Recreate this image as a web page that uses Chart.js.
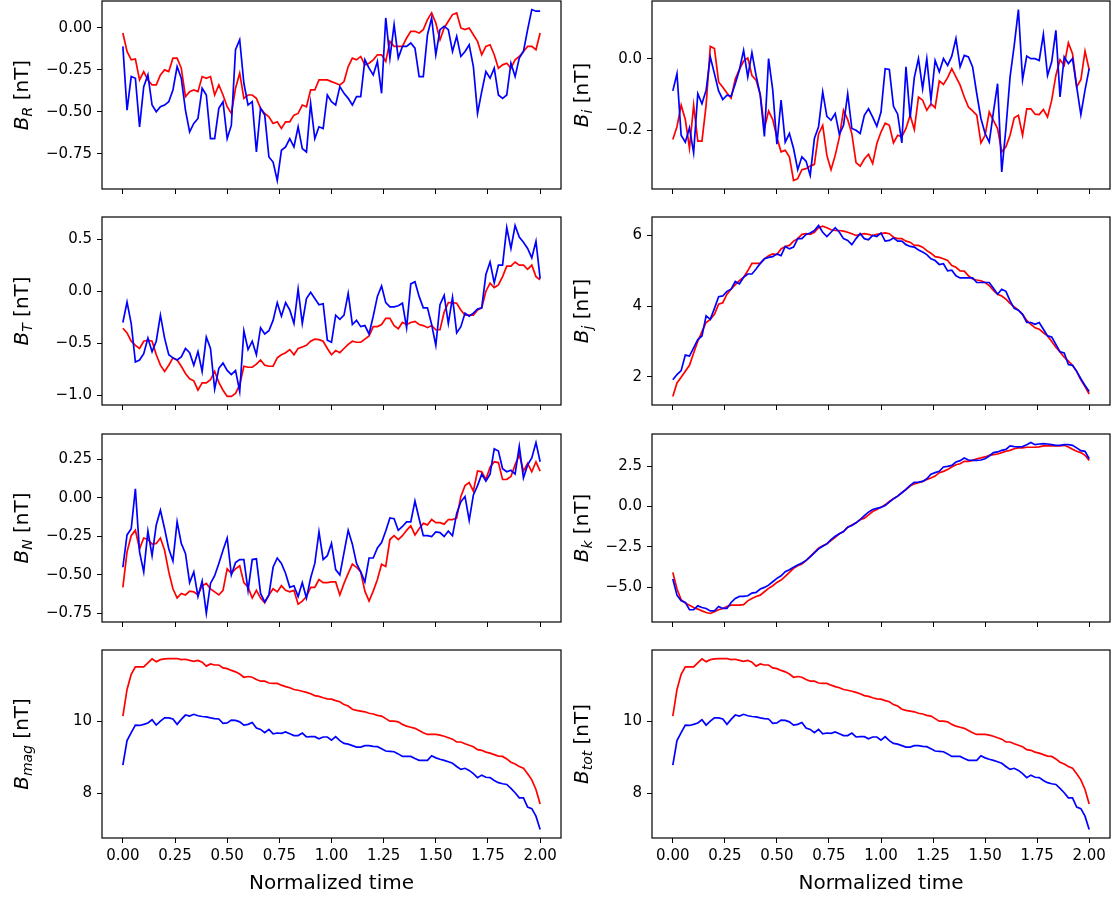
<!DOCTYPE html>
<html>
<head>
<meta charset="utf-8">
<script src="https://cdn.jsdelivr.net/npm/chart.js@4.4.0/dist/chart.umd.min.js"></script>
<style>
body { margin:0; background:#fff; }
#fig { position:relative; width:1115px; height:899px; overflow:hidden; font-family:"DejaVu Sans"; }
#fig canvas { position:absolute; }
.ylab { position:absolute; font-size:20px; line-height:1; white-space:nowrap; color:#000; transform:translate(-50%,-50%) rotate(-90deg); z-index:5; }
.ylab .m { font-style:italic; }
.ylab sub { font-size:70%; vertical-align:-0.3em; line-height:0; }
</style>
</head>
<body>
<div id="fig"></div>
<script>
// normalized time, 101 samples from 0 to 2
var timeArr = [];
for (var i = 0; i <= 100; i++) { timeArr.push(i / 50); }
var xTicks = [0, 0.25, 0.5, 0.75, 1.0, 1.25, 1.5, 1.75, 2.0];

var brRed = [-0.03,-0.14,-0.19,-0.185,-0.31,-0.26,-0.31,-0.34,-0.34,-0.28,
  -0.25,-0.26,-0.18,-0.18,-0.24,-0.41,-0.38,-0.37,-0.38,-0.29,
  -0.30,-0.29,-0.40,-0.34,-0.40,-0.47,-0.51,-0.36,-0.27,-0.42,
  -0.40,-0.40,-0.42,-0.48,-0.51,-0.53,-0.57,-0.56,-0.60,-0.56,
  -0.56,-0.52,-0.51,-0.46,-0.47,-0.37,-0.37,-0.31,-0.31,-0.31,
  -0.32,-0.33,-0.34,-0.32,-0.23,-0.18,-0.19,-0.17,-0.22,-0.21,
  -0.19,-0.16,-0.16,-0.20,-0.08,-0.11,-0.11,-0.11,-0.06,-0.02,
  -0.02,-0.03,-0.01,0.05,0.09,0.03,-0.07,0.00,0.04,0.08,
  0.09,0.00,-0.01,0.00,-0.04,-0.08,-0.16,-0.11,-0.10,-0.16,
  -0.24,-0.22,-0.21,-0.24,-0.19,-0.17,-0.14,-0.11,-0.11,-0.13,
  -0.03];
var brBlue = [-0.11,-0.49,-0.29,-0.30,-0.59,-0.35,-0.28,-0.46,-0.50,-0.47,
  -0.46,-0.44,-0.37,-0.23,-0.30,-0.49,-0.62,-0.57,-0.54,-0.36,
  -0.40,-0.66,-0.66,-0.48,-0.44,-0.66,-0.58,-0.13,-0.07,-0.33,
  -0.46,-0.44,-0.74,-0.48,-0.52,-0.77,-0.80,-0.91,-0.73,-0.71,
  -0.66,-0.71,-0.59,-0.72,-0.74,-0.45,-0.66,-0.59,-0.60,-0.40,
  -0.44,-0.46,-0.35,-0.39,-0.42,-0.46,-0.41,-0.41,-0.19,-0.24,
  -0.28,-0.20,-0.39,0.06,-0.18,0.02,-0.18,-0.11,-0.11,-0.09,
  -0.12,-0.29,-0.29,-0.04,0.06,-0.16,-0.01,0.01,-0.01,-0.14,
  -0.05,-0.17,-0.14,-0.10,-0.23,-0.51,-0.38,-0.26,-0.30,-0.24,
  -0.40,-0.42,-0.40,-0.21,-0.29,-0.18,-0.14,-0.01,0.11,0.10,
  0.10];

var biRed = [-0.226,-0.19,-0.13,-0.17,-0.25,-0.13,-0.23,-0.23,-0.13,0.034,
  0.028,-0.065,-0.08,-0.096,-0.11,-0.057,-0.03,-0.007,0.002,-0.047,
  -0.06,-0.10,-0.195,-0.146,-0.17,-0.22,-0.26,-0.256,-0.274,-0.34,
  -0.335,-0.31,-0.307,-0.30,-0.295,-0.21,-0.186,-0.27,-0.31,-0.27,
  -0.22,-0.144,-0.17,-0.21,-0.29,-0.30,-0.28,-0.267,-0.293,-0.237,
  -0.205,-0.18,-0.186,-0.235,-0.214,-0.218,-0.195,-0.158,-0.198,-0.107,
  -0.116,-0.144,-0.126,-0.137,-0.062,-0.072,-0.053,-0.028,-0.051,-0.074,
  -0.107,-0.135,-0.146,-0.158,-0.235,-0.214,-0.149,-0.172,-0.195,-0.26,
  -0.246,-0.214,-0.165,-0.158,-0.214,-0.14,-0.14,-0.155,-0.156,-0.142,
  -0.163,-0.116,-0.047,-0.003,-0.019,0.044,0.014,-0.079,-0.059,0.021,
  -0.031];
var biBlue = [-0.09,-0.042,-0.214,-0.233,-0.193,-0.263,-0.098,-0.126,-0.088,0.005,
  -0.042,-0.09,-0.114,-0.102,-0.105,-0.07,-0.031,0.023,-0.051,0.017,
  -0.047,-0.102,-0.217,0.0,-0.088,-0.239,-0.116,-0.233,-0.209,-0.251,
  -0.31,-0.274,-0.286,-0.326,-0.223,-0.19,-0.093,-0.161,-0.172,-0.153,
  -0.211,-0.186,-0.098,-0.195,-0.2,-0.209,-0.158,-0.14,-0.163,-0.189,
  -0.149,-0.028,-0.03,-0.133,-0.155,-0.235,-0.023,-0.165,-0.053,0.0,
  -0.084,0.0,-0.116,-0.005,-0.037,0.0,-0.019,0.007,0.056,-0.023,
  0.009,0.005,-0.023,-0.098,-0.167,-0.209,-0.233,-0.149,-0.07,-0.316,
  -0.195,-0.051,0.037,0.137,-0.059,0.007,0.0,0.0,-0.005,0.068,
  -0.047,-0.009,0.079,-0.107,0.005,-0.014,0.0,-0.079,-0.156,-0.088,
  -0.028];

var btRed = [-0.356,-0.40,-0.48,-0.52,-0.55,-0.48,-0.47,-0.48,-0.61,-0.71,
  -0.77,-0.71,-0.64,-0.66,-0.72,-0.79,-0.84,-0.86,-0.95,-0.88,
  -0.88,-0.85,-0.77,-0.875,-0.95,-1.01,-1.01,-0.98,-0.90,-0.72,
  -0.73,-0.73,-0.70,-0.66,-0.71,-0.72,-0.72,-0.64,-0.61,-0.59,
  -0.56,-0.61,-0.55,-0.535,-0.52,-0.48,-0.46,-0.465,-0.48,-0.55,
  -0.61,-0.57,-0.59,-0.55,-0.51,-0.48,-0.49,-0.49,-0.46,-0.43,
  -0.34,-0.34,-0.32,-0.26,-0.26,-0.33,-0.36,-0.30,-0.32,-0.30,
  -0.29,-0.32,-0.33,-0.35,-0.33,-0.37,-0.37,-0.20,-0.11,-0.11,
  -0.115,-0.18,-0.23,-0.23,-0.23,-0.18,-0.16,0.0,0.077,0.035,
  0.06,0.14,0.24,0.24,0.28,0.25,0.25,0.21,0.25,0.14,
  0.11];
var btBlue = [-0.30,-0.105,-0.31,-0.68,-0.66,-0.60,-0.45,-0.58,-0.48,-0.23,
  -0.45,-0.61,-0.64,-0.66,-0.63,-0.55,-0.59,-0.71,-0.58,-0.77,
  -0.44,-0.55,-0.94,-0.74,-0.69,-0.76,-0.80,-0.76,-0.96,-0.38,
  -0.56,-0.48,-0.61,-0.35,-0.41,-0.38,-0.28,-0.11,-0.24,-0.11,
  -0.18,-0.31,0.02,-0.31,-0.07,-0.01,-0.07,-0.13,-0.12,-0.47,
  -0.49,-0.23,-0.27,-0.23,-0.02,-0.32,-0.28,-0.34,-0.33,-0.41,
  -0.24,-0.05,0.05,-0.11,-0.15,-0.15,-0.14,-0.115,-0.35,0.07,
  0.09,-0.05,-0.16,-0.16,-0.32,-0.52,-0.13,-0.04,-0.31,-0.06,
  -0.40,-0.34,-0.21,-0.24,-0.21,-0.17,-0.16,0.16,0.28,0.08,
  0.25,0.25,0.61,0.41,0.63,0.52,0.47,0.41,0.32,0.48,
  0.12];

var bjRed = [1.45,1.83,1.99,2.16,2.33,2.68,3.01,3.28,3.54,3.63,
  3.77,4.06,4.10,4.34,4.48,4.61,4.72,4.82,5.00,5.21,
  5.21,5.21,5.34,5.43,5.48,5.46,5.62,5.69,5.72,5.84,
  5.91,6.03,6.05,6.03,6.09,6.22,6.26,6.22,6.16,6.14,
  6.14,6.12,6.09,6.05,6.00,6.03,6.05,6.03,6.00,6.03,
  6.05,6.07,6.05,5.95,5.91,5.91,5.84,5.81,5.72,5.72,
  5.67,5.57,5.50,5.40,5.38,5.34,5.29,5.15,5.10,5.00,
  4.99,4.86,4.77,4.74,4.72,4.67,4.58,4.45,4.34,4.29,
  4.20,4.08,3.98,3.89,3.77,3.60,3.49,3.39,3.35,3.25,
  3.16,3.00,2.84,2.71,2.56,2.45,2.33,2.16,1.92,1.73,
  1.52];
var bjBlue = [1.92,2.07,2.18,2.62,2.59,2.82,3.06,3.16,3.73,3.63,
  3.94,4.27,4.29,4.42,4.48,4.70,4.63,4.82,4.91,4.91,
  5.05,5.21,5.34,5.38,5.40,5.48,5.43,5.69,5.62,5.67,
  5.91,5.91,6.03,6.07,6.14,6.28,6.09,5.97,6.09,6.22,
  6.09,5.91,5.86,5.74,5.91,6.05,5.91,5.88,6.00,5.97,
  6.07,5.84,5.86,5.93,5.84,5.84,5.74,5.69,5.67,5.59,
  5.53,5.46,5.34,5.29,5.18,5.20,5.00,5.02,4.86,4.80,
  4.80,4.80,4.80,4.67,4.67,4.67,4.67,4.51,4.34,4.48,
  4.42,4.15,3.94,3.89,3.77,3.54,3.54,3.49,3.54,3.35,
  3.16,3.13,2.92,2.71,2.68,2.35,2.33,2.16,1.95,1.76,
  1.59];

var bnRed = [-0.58,-0.35,-0.245,-0.21,-0.33,-0.26,-0.27,-0.30,-0.295,-0.26,
  -0.34,-0.48,-0.59,-0.65,-0.62,-0.63,-0.605,-0.61,-0.63,-0.57,
  -0.555,-0.59,-0.61,-0.63,-0.60,-0.46,-0.49,-0.46,-0.44,-0.55,
  -0.58,-0.65,-0.60,-0.65,-0.68,-0.63,-0.59,-0.61,-0.57,-0.60,
  -0.61,-0.60,-0.69,-0.67,-0.64,-0.58,-0.58,-0.53,-0.55,-0.55,
  -0.545,-0.545,-0.63,-0.555,-0.49,-0.43,-0.45,-0.48,-0.605,-0.67,
  -0.605,-0.53,-0.43,-0.445,-0.27,-0.245,-0.27,-0.245,-0.21,-0.18,
  -0.24,-0.20,-0.165,-0.175,-0.14,-0.16,-0.16,-0.17,-0.14,-0.14,
  -0.13,0.01,0.08,0.10,0.045,0.175,0.17,0.12,0.20,0.235,
  0.23,0.12,0.12,0.14,0.215,0.28,0.175,0.225,0.17,0.235,
  0.175];
var bnBlue = [-0.45,-0.24,-0.20,0.06,-0.35,-0.48,-0.215,-0.375,-0.175,-0.08,
  -0.20,-0.33,-0.41,-0.155,-0.295,-0.36,-0.55,-0.48,-0.64,-0.54,
  -0.75,-0.555,-0.505,-0.425,-0.34,-0.26,-0.50,-0.42,-0.40,-0.40,
  -0.60,-0.40,-0.395,-0.62,-0.675,-0.63,-0.45,-0.39,-0.425,-0.49,
  -0.58,-0.57,-0.64,-0.55,-0.65,-0.52,-0.425,-0.22,-0.40,-0.375,
  -0.295,-0.465,-0.50,-0.355,-0.21,-0.30,-0.425,-0.48,-0.545,-0.39,
  -0.39,-0.325,-0.29,-0.215,-0.13,-0.135,-0.21,-0.185,-0.155,-0.155,
  -0.02,-0.135,-0.245,-0.245,-0.25,-0.22,-0.225,-0.25,-0.215,-0.245,
  -0.10,-0.025,0.01,-0.145,0.02,0.08,0.155,0.11,0.155,0.32,
  0.305,0.19,0.17,0.18,0.155,0.335,0.13,0.215,0.26,0.36,
  0.235];

var bkRed = [-4.07,-5.10,-5.76,-5.97,-6.10,-6.24,-6.34,-6.45,-6.55,-6.61,
  -6.51,-6.38,-6.30,-6.18,-6.10,-6.10,-6.10,-6.07,-5.83,-5.68,
  -5.56,-5.48,-5.27,-5.06,-4.90,-4.69,-4.55,-4.32,-4.07,-3.82,
  -3.66,-3.55,-3.35,-3.08,-2.83,-2.58,-2.42,-2.31,-2.11,-1.90,
  -1.69,-1.55,-1.28,-1.14,-1.01,-0.81,-0.72,-0.52,-0.31,-0.19,
  -0.04,0.10,0.31,0.48,0.64,0.85,1.05,1.26,1.40,1.47,
  1.55,1.67,1.76,1.88,2.09,2.17,2.29,2.44,2.58,2.64,
  2.79,2.79,2.85,2.95,3.00,3.06,3.16,3.20,3.24,3.33,
  3.41,3.47,3.57,3.62,3.62,3.66,3.66,3.66,3.68,3.74,
  3.74,3.74,3.74,3.74,3.78,3.68,3.53,3.41,3.33,3.16,
  2.85];
var bkBlue = [-4.48,-5.48,-5.83,-5.93,-6.38,-6.38,-6.14,-6.24,-6.30,-6.45,
  -6.45,-6.18,-6.30,-6.30,-5.93,-5.68,-5.56,-5.56,-5.52,-5.35,
  -5.31,-5.10,-5.00,-4.86,-4.65,-4.44,-4.28,-4.03,-3.91,-3.76,
  -3.62,-3.49,-3.33,-3.12,-2.87,-2.62,-2.46,-2.31,-2.05,-1.84,
  -1.69,-1.55,-1.28,-1.18,-1.01,-0.81,-0.56,-0.35,-0.19,-0.12,
  -0.06,0.06,0.27,0.48,0.64,0.85,1.05,1.30,1.49,1.51,
  1.55,1.71,2.00,2.09,2.17,2.44,2.48,2.54,2.75,2.83,
  3.00,2.87,2.85,2.85,2.87,2.95,3.12,3.33,3.37,3.47,
  3.53,3.74,3.70,3.68,3.70,3.82,3.95,3.82,3.86,3.88,
  3.86,3.82,3.78,3.78,3.82,3.82,3.78,3.62,3.45,3.41,
  2.95];

var bmagRed = [10.14,10.88,11.30,11.51,11.51,11.51,11.62,11.73,11.65,11.71,
  11.73,11.74,11.74,11.74,11.71,11.72,11.69,11.66,11.69,11.64,
  11.53,11.59,11.56,11.56,11.48,11.46,11.41,11.37,11.31,11.22,
  11.24,11.22,11.16,11.11,11.11,11.06,11.05,11.05,11.00,10.96,
  10.93,10.88,10.86,10.83,10.80,10.76,10.71,10.69,10.65,10.62,
  10.61,10.57,10.54,10.46,10.42,10.33,10.30,10.28,10.26,10.22,
  10.20,10.16,10.14,10.07,10.00,10.00,9.98,9.91,9.86,9.83,
  9.80,9.74,9.68,9.63,9.63,9.63,9.61,9.58,9.54,9.50,
  9.42,9.42,9.37,9.33,9.29,9.21,9.19,9.14,9.11,9.07,
  9.03,9.02,8.95,8.86,8.81,8.74,8.69,8.54,8.37,8.10,
  7.70];
var bmagBlue = [8.78,9.46,9.68,9.89,9.88,9.91,9.95,10.04,9.89,10.00,
  10.09,10.09,10.06,9.91,10.05,10.17,10.14,10.19,10.15,10.13,
  10.12,10.09,10.07,10.06,9.94,9.95,10.03,10.02,9.98,9.89,
  9.91,9.96,9.81,9.77,9.68,9.77,9.65,9.67,9.66,9.70,
  9.65,9.60,9.60,9.67,9.56,9.57,9.57,9.51,9.56,9.56,
  9.47,9.57,9.46,9.38,9.36,9.32,9.28,9.28,9.32,9.32,
  9.30,9.29,9.23,9.17,9.16,9.15,9.09,9.02,9.02,9.02,
  8.96,8.91,8.91,8.91,9.04,8.98,8.94,8.91,8.87,8.83,
  8.74,8.66,8.69,8.63,8.54,8.43,8.50,8.44,8.43,8.35,
  8.29,8.26,8.24,8.13,8.01,7.87,7.87,7.61,7.57,7.36,
  6.99];
// |B| is the same in both frames
var btotRed = bmagRed;
var btotBlue = bmagBlue;

// panel setup: column, row, label subscript, y ticks, decimals
var panels = [
  {col:0, row:0, sub:'R',   red:brRed,   blue:brBlue,   ticks:[-0.75,-0.5,-0.25,0], dec:2},
  {col:1, row:0, sub:'i',   red:biRed,   blue:biBlue,   ticks:[-0.2,0], dec:1},
  {col:0, row:1, sub:'T',   red:btRed,   blue:btBlue,   ticks:[-1,-0.5,0,0.5], dec:1},
  {col:1, row:1, sub:'j',   red:bjRed,   blue:bjBlue,   ticks:[2,4,6], dec:0},
  {col:0, row:2, sub:'N',   red:bnRed,   blue:bnBlue,   ticks:[-0.75,-0.5,-0.25,0,0.25], dec:2},
  {col:1, row:2, sub:'k',   red:bkRed,   blue:bkBlue,   ticks:[-5,-2.5,0,2.5], dec:1},
  {col:0, row:3, sub:'mag', red:bmagRed, blue:bmagBlue, ticks:[8,10], dec:0},
  {col:1, row:3, sub:'tot', red:btotRed, blue:btotBlue, ticks:[8,10], dec:0}
];

var plotLeft = [102, 652], plotW = [459, 458], axisW = [70, 60];
var plotTop = [1, 217, 434, 650], plotH = 188;
var labelX = [21, 581];
var padT = 12, padR = 6;

Chart.defaults.font.family = 'DejaVu Sans';
Chart.defaults.font.size = 15;
Chart.defaults.color = '#000';

function fmt(v, d) {
  var s = Math.abs(v).toFixed(d);
  return (v < -1e-9 ? '\u2212' : '') + s;
}

// matplotlib style frame round the plot area
var framePlugin = {
  id: 'frame',
  afterDatasetsDraw: function(chart) {
    var a = chart.chartArea, ctx = chart.ctx;
    ctx.save();
    ctx.strokeStyle = '#000';
    ctx.lineWidth = 1.2;
    ctx.strokeRect(a.left, a.top, a.right - a.left, a.bottom - a.top);
    ctx.restore();
  }
};

function toPoints(vals) {
  return vals.map(function(v, i) { return {x: timeArr[i], y: v}; });
}

var fig = document.getElementById('fig');

panels.forEach(function(p) {
  var bottomRow = p.row === 3;
  var xH = bottomRow ? 58 : 12;
  var cv = document.createElement('canvas');
  var w = axisW[p.col] + plotW[p.col] + padR;
  var h = padT + plotH + xH;
  cv.width = w; cv.height = h;
  cv.style.left = (plotLeft[p.col] - axisW[p.col]) + 'px';
  cv.style.top = (plotTop[p.row] - padT) + 'px';
  cv.style.width = w + 'px'; cv.style.height = h + 'px';
  fig.appendChild(cv);

  var all = p.red.concat(p.blue);
  var lo = Math.min.apply(null, all), hi = Math.max.apply(null, all);
  var m = (hi - lo) * 0.05;

  new Chart(cv, {
    type: 'line',
    data: {
      datasets: [
        {data: toPoints(p.blue), borderColor: '#0000ff', borderWidth: 1.7, pointRadius: 0, tension: 0, fill: false},
        {data: toPoints(p.red), borderColor: '#ff0000', borderWidth: 1.7, pointRadius: 0, tension: 0, fill: false}
      ]
    },
    options: {
      responsive: false,
      animation: false,
      events: [],
      layout: {padding: {top: padT, right: padR, left: 0, bottom: 0}},
      plugins: {legend: {display: false}, tooltip: {enabled: false}},
      scales: {
        x: {
          type: 'linear', min: -0.1, max: 2.1,
          afterBuildTicks: function(ax) { ax.ticks = xTicks.map(function(v) { return {value: v}; }); },
          afterFit: function(ax) { ax.height = xH; ax.paddingLeft = 0; ax.paddingRight = 0; },
          ticks: {display: bottomRow, autoSkip: false, maxRotation: 0, padding: 4,
            callback: function(v) { return fmt(v, 2); }},
          grid: {display: true, drawOnChartArea: false, drawTicks: true, tickLength: 5, tickWidth: 1, tickColor: '#000'},
          border: {display: false},
          title: {display: bottomRow, text: 'Normalized time', font: {size: 20}, padding: {top: 4, bottom: 0}}
        },
        y: {
          type: 'linear', min: lo - m, max: hi + m,
          afterBuildTicks: function(ax) { ax.ticks = p.ticks.map(function(v) { return {value: v}; }); },
          afterFit: function(ax) { ax.width = axisW[p.col]; ax.paddingTop = 0; ax.paddingBottom = 0; },
          ticks: {padding: 5, callback: function(v) { return fmt(v, p.dec); }},
          grid: {display: true, drawOnChartArea: false, drawTicks: true, tickLength: 5, tickWidth: 1, tickColor: '#000'},
          border: {display: false}
        }
      }
    },
    plugins: [framePlugin]
  });

  // y axis label with subscript, as html text
  var lab = document.createElement('div');
  lab.className = 'ylab';
  lab.innerHTML = '<span class="m">B<sub>' + p.sub + '</sub></span> [nT]';
  lab.style.left = labelX[p.col] + 'px';
  lab.style.top = (plotTop[p.row] + plotH / 2) + 'px';
  fig.appendChild(lab);
});
</script>
</body>
</html>
